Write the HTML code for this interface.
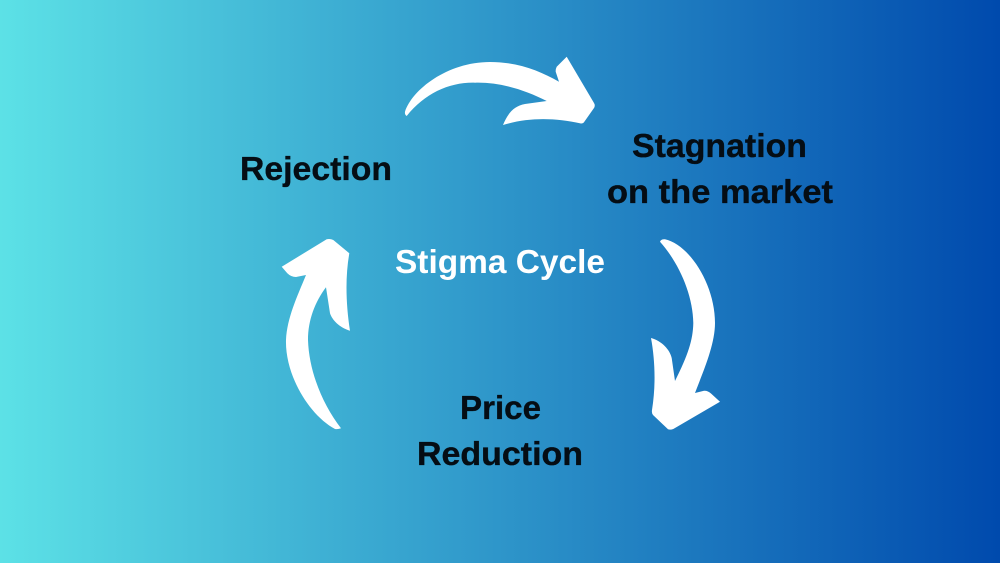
<!DOCTYPE html>
<html>
<head>
<meta charset="utf-8">
<style>
html,body{margin:0;padding:0;width:1000px;height:563px;overflow:hidden}
svg{display:block}
text{font-family:"Liberation Sans",sans-serif;font-weight:700;font-size:33px;fill:#050d14;stroke:#050d14;stroke-width:.35px}
</style>
</head>
<body>
<svg width="1000" height="563" viewBox="0 0 1000 563" xmlns="http://www.w3.org/2000/svg">
<defs>
<linearGradient id="g" x1="0" y1="0" x2="1" y2="0">
<stop offset="0" stop-color="#5ce1e6"/>
<stop offset="1" stop-color="#004aad"/>
</linearGradient>
</defs>
<rect width="1000" height="563" fill="url(#g)"/>
<g fill="#fff">
<path d="M406.7 116 Q404.5 114.5 405 111.7 C412 90 447 62 490 62 C518 62 540 71 559 81.7 L555.7 71.7 Q555.5 69 556.7 66.7 L566.7 56.7 L594 103 Q595.5 105.5 594 108 L584.5 121.5 Q583.5 123.5 581 123.5 C555 118 530 117 503 125 C508 113 514 106 525 104 L546.7 101 C525 90 500 82 475 82.7 C450 82 425 93 406.7 116 Z"/>
<path d="M660 241.7 Q661 239 665 239.3 C690 245 715 285 715 323 C715 345 703 372 695 393 L704 390.7 Q708 390.5 711 393.5 L720 401.7 L673.3 429 Q670.5 430 668 429.3 L653 415 Q651.5 413 652 410 C656 385 655 360 651 338 C662 341 670 350 671.7 358 L675 381 C688 355 693 340 693.3 323 C693 295 679 263 660 241.7 Z"/>
<path d="M341 428.3 Q338 429.5 335 429 C309 415 285 375 286 340 C287 318 297 297 306 275 L296 277 Q291 277 287.3 273.3 L281.7 266.7 L326.7 239.3 Q330 238.5 333.3 240 L349.3 253.3 C345 278 346 305 350 330.7 C340 328 332 320 330 313.3 L326 287.3 C315 302 308 320 308 340 C309 372 323 405 341 428.3 Z"/>
</g>
<text x="240" y="180" textLength="152" lengthAdjust="spacingAndGlyphs">Rejection</text>
<text x="632" y="157" textLength="175" lengthAdjust="spacingAndGlyphs">Stagnation</text>
<text x="607" y="203" textLength="226" lengthAdjust="spacingAndGlyphs">on the market</text>
<text x="395" y="273" textLength="210" lengthAdjust="spacingAndGlyphs" style="fill:#fff;stroke:none">Stigma Cycle</text>
<text x="460" y="419" textLength="81" lengthAdjust="spacingAndGlyphs">Price</text>
<text x="417" y="465" textLength="166" lengthAdjust="spacingAndGlyphs">Reduction</text>
</svg>
</body>
</html>
